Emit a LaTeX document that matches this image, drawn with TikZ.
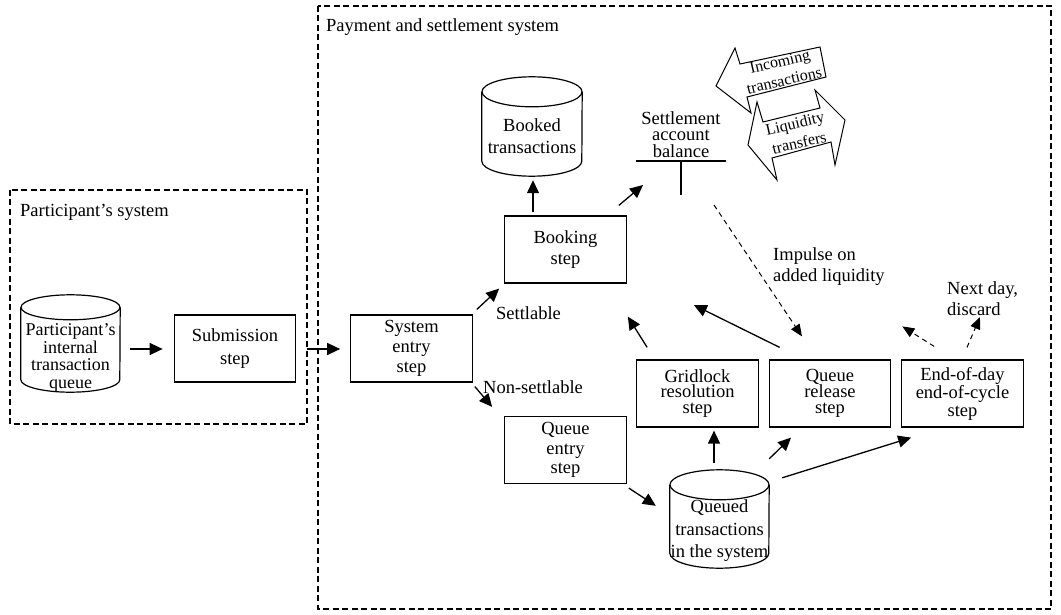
\documentclass[tikz,border=0pt]{standalone}
\usepackage{fontspec}
\setmainfont{Liberation Serif}
\usetikzlibrary{arrows.meta,calc}
\newcommand\fs[1]{\fontsize{18.5}{#1}\selectfont}
\newcommand\drawcyl[3]{%
  \draw[line width=1.2pt] ([yshift=-#3pt]#1.north west) -- ([yshift=#3pt]#1.south west)
    arc[start angle=180,end angle=360,x radius=#2pt,y radius=#3pt] -- ([yshift=-#3pt]#1.north east);
  \draw[line width=1.2pt] ([yshift=-#3pt]#1.north) ellipse[x radius=#2pt,y radius=#3pt];}
\begin{document}
\begin{tikzpicture}[x=1pt,y=-1pt,inner sep=0pt,
  box/.style={draw, line width=1.2pt, minimum width=121.5pt, minimum height=67pt, align=center},
  lbl/.style={anchor=west, align=left},
  dbox/.style={draw, line width=2pt, dash pattern=on 6pt off 3.5pt},
  arr/.style={-{Triangle[length=13pt,width=12pt]}, line width=1.3pt},
  darr/.style={-{Triangle[length=12pt,width=10pt]}, line width=1pt, dash pattern=on 5pt off 4pt},
  blk/.style={draw, line width=1pt, fill=white, line join=miter},
  blktxt/.style={rotate=13, align=center, font=\fontsize{16}{19.5}\selectfont}]
\useasboundingbox (0,0) rectangle (1061,615);

% frames
\draw[dbox] (10,190) rectangle (307,424);
\draw[dbox] (318,6) rectangle (1051,609);
\node[lbl, font=\fs{20}] (lpart) at (20,212) {Participant's system};
\node[lbl, font=\fs{20}] (lpay) at (326,27) {Payment and settlement system};

% cylinders
\node[minimum width=99pt, minimum height=97pt] (pq) at (70.5,343.5) {};
\drawcyl{pq}{49.5}{12.5}
\node[align=center, font=\fontsize{18}{17.5}\selectfont] (pqt) at (70.5,358) {Participant's\\internal\\transaction\\queue};

\node[minimum width=100pt, minimum height=99pt] (booked) at (532,126.5) {};
\drawcyl{booked}{50}{15}
\node[align=center, font=\fs{22}] (bookedt) at (532,136) {Booked\\transactions};

\node[minimum width=99pt, minimum height=98pt] (queued) at (719.5,519) {};
\drawcyl{queued}{49.5}{15}
\node[align=center, font=\fs{22.5}] (queuedt) at (719.5,531) {Queued\\transactions\\in the system};

% boxes
\node[box, font=\fs{23}] (sub) at (235,348.5) {Submission\\step};
\node[box, font=\fs{20}] (sys) at (411.5,348.5) {System\\entry\\step};
\node[box, font=\fs{21}] (book) at (565.5,249.5) {Booking\\step};
\node[box, font=\fs{19.5}] (qe) at (565.5,450) {Queue\\entry\\step};
\node[box, font=\fs{15.5}] (grid) at (697.5,393.5) {Gridlock\\resolution\\step};
\node[box, font=\fs{16}] (qr) at (830,393.5) {Queue\\release\\step};
\node[box, font=\fs{18}] (eod) at (962.5,393.5) {End-of-day\\end-of-cycle\\step};

% settlement account balance
\node[align=center, font=\fs{16.5}] (sab) at (681,134.5) {Settlement\\account\\balance};
\coordinate (barL) at (636,161);
\coordinate (barR) at (726,161);
\coordinate (barM) at (681,161);
\coordinate (barB) at (681,195);
\draw[line width=1.2pt] (barL) -- (barR) (barM) -- (barB);

% block arrows
\draw[blk] (716,86) -- (735,48) -- (740,64) -- (820,47) -- (826,77) -- (747,97) -- (751,113) -- cycle;
\node[blktxt] (tin) at (782,71) {Incoming\\transactions};
\draw[blk] (748,145) -- (757,102) -- (763,122) -- (820,108) -- (815,90) -- (845,120)
  -- (835,165) -- (831,142) -- (772,158) -- (777,180) -- cycle;
\node[blktxt] (tliq) at (797,133) {Liquidity\\transfers};

% labels
\node[lbl, font=\fs{20}] (lsett) at (496,313) {Settlable};
\node[lbl, font=\fs{20}] (lnons) at (483,387) {Non-settlable};
\node[lbl, font=\fs{21}] (limp) at (773,266.5) {Impulse on\\added liquidity};
\node[lbl, font=\fs{21}] (lnext) at (947,298.5) {Next day,\\discard};

% connectors
\draw[arr] ($(pq.east)+(10,5.5)$) -- ($(sub.west)+(-11,0.5)$);
\draw[arr] ($(sub.east)+(11,0.5)$) -- ($(sys.west)+(-10,0.5)$);
\draw[arr] ($(book.north)+(-32.5,-3)$) -- ($(booked.south)+(1,4)$);
\draw[arr] ($(sys.north east)+(4,-5)$) -- ($(book.south west)+(-5,5)$);
\draw[arr] ($(sys.south east)+(2,4)$) -- ($(qe.north west)+(-12,-9)$);
\draw[arr] ($(book.north east)+(-8,-10)$) -- ($(barL)+(7,24)$);
\draw[darr] ($(barB)+(33,10)$) -- ($(qr.north)+(-28,-23)$);
\draw[arr] ($(qe.south east)+(2,4)$) -- ($(queued.north west)+(-14,36)$);
\draw[arr] ($(queued.north)+(-5.5,-7)$) -- ($(grid.south)+(16.5,3)$);
\draw[arr] ($(queued.north east)+(0,-11)$) -- ($(qr.south)+(-39,10)$);
\draw[arr] ($(queued.north east)+(13,8)$) -- ($(eod.south west)+(10,10)$);
\draw[arr] ($(grid.north west)+(11,-12)$) -- ($(book.south east)+(1,33)$);
\draw[arr] ($(qr.north west)+(11,-12)$) -- ($(book.east)+(67,55.5)$);
\draw[darr] ($(eod.north west)+(33,-13)$) -- ($(qr.north east)+(11,-33)$);
\coordinate (ndend) at (980,317);
\draw[darr] ($(eod.north)+(4.5,-12)$) -- (ndend);
\end{tikzpicture}
\end{document}
